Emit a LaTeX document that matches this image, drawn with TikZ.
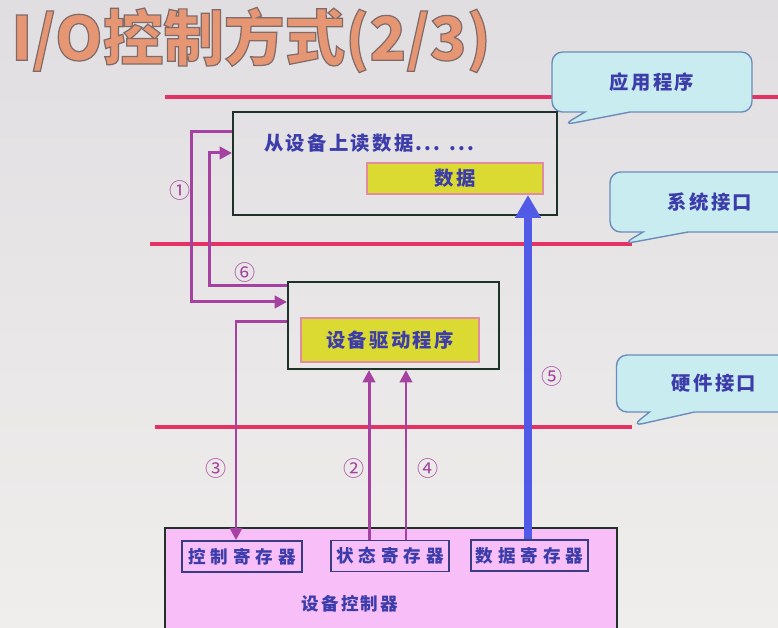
\documentclass[tikz,border=0pt]{standalone}
\usepackage{fontspec}
\usetikzlibrary{arrows.meta, shapes.callouts}
\setmainfont{Noto Sans CJK SC}
\newfontfamily\cjk{Noto Sans CJK SC}[LetterSpace=12]
\newfontfamily\cjkwide{Noto Sans CJK SC}[LetterSpace=28]
\newcommand\outlined[1]{\special{pdf:literal direct 2 Tr 0.7 w 0.5 0.42 0.42 RG}#1\special{pdf:literal direct 0 Tr}}
\definecolor{bgtop}{RGB}{224,222,225}
\definecolor{bgbottom}{RGB}{240,238,236}
\definecolor{titleorange}{RGB}{230,150,115}
\definecolor{ifred}{RGB}{228,50,100}
\definecolor{notefill}{RGB}{200,236,240}
\definecolor{noteline}{RGB}{110,140,185}
\definecolor{textblue}{RGB}{60,60,170}
\definecolor{boxline}{RGB}{30,50,40}
\definecolor{fieldfill}{RGB}{218,218,50}
\definecolor{fieldline}{RGB}{225,140,160}
\definecolor{ctrlfill}{RGB}{248,190,248}
\definecolor{regline}{RGB}{60,60,130}
\definecolor{flowpurple}{RGB}{165,65,160}
\definecolor{flowblue}{RGB}{80,90,230}
\tikzset{
    ifline/.style={draw=ifred, line width=2.3pt},
    calloutbox/.style={rectangle callout, draw=noteline, fill=notefill, line width=0.8pt,
        rounded corners=6pt, callout pointer width=0.9cm, text=textblue,
        font=\cjk\bfseries\fontsize{11}{13}\selectfont},
    progbox/.style={draw=boxline, line width=1.2pt, inner sep=0pt},
    fieldbox/.style={draw=fieldline, fill=fieldfill, line width=1.2pt, text=textblue,
        font=\cjk\bfseries\fontsize{11}{13}\selectfont},
    regbox/.style={draw=regline, line width=1pt, minimum height=0.62cm, inner sep=0pt,
        text=textblue, font=\cjkwide\bfseries\fontsize{10}{12}\selectfont},
    flow/.style={draw=flowpurple, line width=1.7pt, -{Triangle[length=7pt, width=7pt]}},
    bigflow/.style={draw=flowblue, line width=4pt, -{Triangle[length=13pt, width=14pt]}},
    stepnum/.style={text=flowpurple, font=\fontsize{12}{14}\selectfont}
}
\begin{document}
\begin{tikzpicture}[x=0.02cm, y=-0.02cm]
    \useasboundingbox (0,0) rectangle (778,627);
    \clip (0,0) rectangle (778,627);
    \shade[top color=bgtop, bottom color=bgbottom] (0,0) rectangle (778,627);
    \node[anchor=west, text=titleorange, font=\bfseries\fontsize{34.5}{38}\selectfont] (title) at (5,40) {\outlined{I/O控制方式(2/3)}};

    \draw[ifline] (165,97) -- (778,97);
    \draw[ifline] (150,244) -- (632,244);
    \draw[ifline] (155,427) -- (632,427);

    \node[calloutbox, minimum width=4cm, minimum height=1.2cm, callout absolute pointer={(563,125)}] (appnote) at (652,82) {应用程序};
    \node[calloutbox, minimum width=4cm, minimum height=1.2cm, callout absolute pointer={(623,244)}] (sysnote) at (710,202) {系统接口};
    \node[calloutbox, minimum width=3.9cm, minimum height=1.14cm, callout absolute pointer={(632,426)}] (hwnote) at (714,383.5) {硬件接口};

    \node[progbox, minimum width=6.48cm, minimum height=2.06cm] (appbox) at (395,163.5) {};
    \node[anchor=west, text=textblue, font=\cjk\bfseries\fontsize{11}{13}\selectfont] (readtext) at (258,143) {从设备上读数据... ...};
    \node[fieldbox, minimum width=3.52cm, minimum height=0.62cm] (databox) at (455,178.5) {数据};

    \node[progbox, minimum width=4.22cm, minimum height=1.74cm] (drvbox) at (393.5,325.5) {};
    \node[fieldbox, minimum width=3.56cm, minimum height=0.88cm] (drvname) at (390,340) {设备驱动程序};

    \node[progbox, fill=ctrlfill, anchor=north, minimum width=9.04cm, minimum height=2.6cm] (ctrlbox) at (391,527) {};
    \node[regbox, minimum width=2.4cm] (ctrlreg) at (242,556.5) {控制寄存器};
    \node[regbox, minimum width=2.36cm] (statreg) at (390,556) {状态寄存器};
    \node[regbox, minimum width=2.34cm] (datareg) at (529.5,555.5) {数据寄存器};
    \node[text=textblue, font=\cjk\bfseries\fontsize{10}{12}\selectfont] (ctrlname) at (350,604) {设备控制器};

    \draw[flow] ([yshift=-0.42cm]appbox.north west) -- ++(-40,0) |- ([yshift=-0.42cm]drvbox.north west);
    \draw[flow] ([yshift=-0.1cm]drvbox.north west) -- ++(-77,0) |- ([yshift=-0.84cm]appbox.north west);
    \draw[flow] ([yshift=-0.82cm]drvbox.north west) -| ([xshift=-0.12cm]ctrlreg.north);
    \draw[flow] ([xshift=-0.42cm]statreg.north) -- ([xshift=-0.42cm]statreg.north |- drvbox.south);
    \draw[flow] ([xshift=0.32cm]statreg.north) -- ([xshift=0.32cm]statreg.north |- drvbox.south);
    \draw[bigflow] ([xshift=-0.03cm]datareg.north) -- ([xshift=-0.03cm]datareg.north |- databox.south);

    \node[stepnum] (s1) at (180,190) {①};
    \node[stepnum] (s2) at (354,468) {②};
    \node[stepnum] (s3) at (216,468) {③};
    \node[stepnum] (s4) at (428,468) {④};
    \node[stepnum] (s5) at (552,376) {⑤};
    \node[stepnum] (s6) at (245,272) {⑥};
\end{tikzpicture}
\end{document}
